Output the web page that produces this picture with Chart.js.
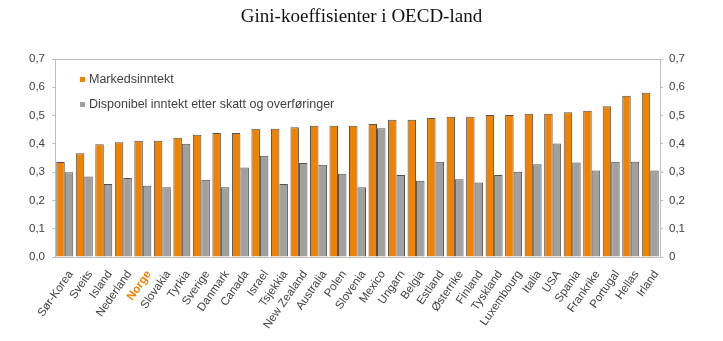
<!DOCTYPE html>
<html>
<head>
<meta charset="utf-8">
<script src="https://cdn.jsdelivr.net/npm/chart.js@4"></script>
<style>
  html, body { margin: 0; padding: 0; background: #fff; }
  #chart { display: block; }
</style>
</head>
<body>
<canvas id="chart" width="723" height="341"></canvas>
<script>
// Land sortert etter markedsinntekt
const countries = ['Sør-Korea', 'Sveits', 'Island', 'Nederland', 'Norge', 'Slovakia', 'Tyrkia', 'Sverige',
    'Danmark', 'Canada', 'Israel', 'Tsjekkia', 'New Zealand', 'Australia', 'Polen', 'Slovenia', 'Mexico',
    'Ungarn', 'Belgia', 'Estland', 'Østerrike', 'Finland', 'Tyskland', 'Luxembourg', 'Italia', 'USA',
    'Spania', 'Frankrike', 'Portugal', 'Hellas', 'Irland'];

const market = [0.336, 0.367, 0.399, 0.406, 0.411, 0.411, 0.422, 0.432, 0.438, 0.438, 0.453, 0.453,
    0.459, 0.464, 0.464, 0.464, 0.470, 0.485, 0.485, 0.491, 0.496, 0.496, 0.502, 0.502, 0.506, 0.506,
    0.512, 0.517, 0.533, 0.570, 0.581];

const disposable = [0.300, 0.285, 0.258, 0.279, 0.252, 0.247, 0.400, 0.273, 0.247, 0.316, 0.358, 0.258,
    0.332, 0.326, 0.294, 0.247, 0.455, 0.290, 0.270, 0.337, 0.275, 0.263, 0.290, 0.301, 0.328, 0.401,
    0.334, 0.306, 0.337, 0.337, 0.306];

const yTicks = [0, 0.1, 0.2, 0.3, 0.4, 0.5, 0.6, 0.7];

const highlight = 'Norge';
const orange = '#ef8200';
const grey = '#a0a0a0';
const axisColor = '#bdbdbd';
const textColor = '#404040';
const sans = '"Liberation Sans", Arial, sans-serif';

// legend inside plot + top frame line
const insideLegend = {
    id: 'insideLegend',
    afterDraw(chart) {
        const ctx = chart.ctx;
        const area = chart.chartArea;
        ctx.save();
        ctx.strokeStyle = axisColor;
        ctx.lineWidth = 1;
        ctx.beginPath();
        ctx.moveTo(area.left, area.top + 0.5);
        ctx.lineTo(area.right, area.top + 0.5);
        ctx.stroke();

        ctx.font = '12.5px ' + sans;
        ctx.textBaseline = 'middle';
        chart.data.datasets.forEach((ds, i) => {
            const y = area.top + 21 + i * 25;
            ctx.fillStyle = ds.backgroundColor;
            ctx.fillRect(area.left + 25, y - 3, 5, 5);
            ctx.fillStyle = textColor;
            ctx.fillText(ds.label, area.left + 34, y);
        });
        ctx.restore();
    }
};

const yAxis = (position, fmt) => ({
    position: position,
    min: 0,
    max: 0.7,
    afterBuildTicks: axis => { axis.ticks = yTicks.map(v => ({ value: v })); },
    afterFit: axis => { axis.width = position === 'left' ? 55 : 63; },
    border: { color: axisColor },
    grid: { drawOnChartArea: false, color: axisColor, tickLength: 3 },
    ticks: {
        color: textColor,
        padding: position === 'left' ? 7 : 6,
        font: { family: sans, size: 11.5 },
        callback: fmt
    }
});

new Chart(document.getElementById('chart'), {
    type: 'bar',
    data: {
        labels: countries,
        datasets: [{
            label: 'Markedsinntekt',
            data: market,
            backgroundColor: orange,
            borderColor: '#505050',
            borderWidth: 1,
            yAxisID: 'y'
        }, {
            label: 'Disponibel inntekt etter skatt og overføringer',
            data: disposable,
            backgroundColor: grey,
            borderColor: '#505050',
            borderWidth: 1,
            yAxisID: 'y'
        }]
    },
    options: {
        responsive: false,
        animation: false,
        datasets: { bar: { categoryPercentage: 0.87, barPercentage: 1 } },
        plugins: {
            legend: { display: false },
            tooltip: { enabled: false },
            title: {
                display: true,
                text: 'Gini-koeffisienter i OECD-land',
                color: '#111',
                font: { family: '"Liberation Serif", "Times New Roman", serif', size: 19, weight: 'normal' },
                padding: { top: 6, bottom: 30.2 }
            }
        },
        scales: {
            x: {
                afterFit: axis => { axis.height = 84; },
                border: { color: axisColor },
                grid: { display: false },
                ticks: {
                    minRotation: 55,
                    maxRotation: 55,
                    autoSkip: false,
                    padding: 3,
                    labelOffset: 6,
                    color: c => countries[c.index] === highlight ? orange : textColor,
                    font: c => ({
                        family: sans,
                        size: 11.5,
                        weight: countries[c.index] === highlight ? 'bold' : 'normal'
                    })
                }
            },
            y: yAxis('left', v => v.toFixed(1).replace('.', ',')),
            y2: yAxis('right', v => v === 0 ? '0' : v.toFixed(1).replace('.', ','))
        }
    },
    plugins: [insideLegend]
});
</script>
</body>
</html>
